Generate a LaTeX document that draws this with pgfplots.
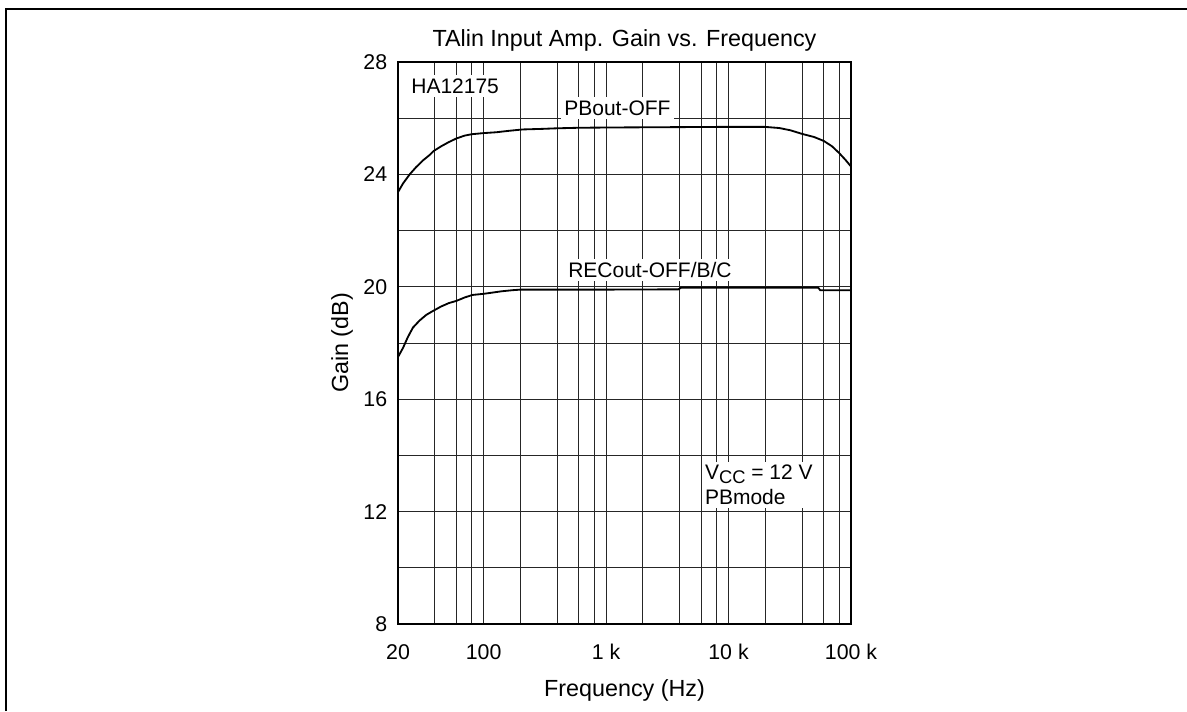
\documentclass[border=0pt]{standalone}
\usepackage{fontspec}
\setmainfont{Liberation Sans}
\usepackage{pgfplots}
\pgfplotsset{compat=1.18}

\begin{document}
\begin{tikzpicture}
\useasboundingbox (0,0) rectangle (712.2pt,426.6pt);
\begin{axis}[
  at={(238.8pt,52.2pt)}, anchor=south west,
  width=271.8pt, height=337.2pt, scale only axis,
  xmode=log, xmin=20, xmax=100000, ymin=8, ymax=28,
  xtick={20,100,1000,10000,100000},
  xticklabels={20,100,1 k,10 k,100 k},
  minor xtick={40,60,80,200,400,600,800,2000,4000,6000,8000,20000,40000,60000,80000},
  ytick={8,12,16,20,24,28},
  minor ytick={10,14,18,22,26},
  grid=both,
  major grid style={black!85, line width=0.55pt},
  minor grid style={black!85, line width=0.55pt},
  major tick length=0pt, minor tick length=0pt,
  axis line style={line width=0.9pt},
  /pgf/number format/assume math mode=true,
  ticklabel style={font=\fontsize{12.8}{15}\selectfont, inner sep=0pt},
  xticklabel style={anchor=north, yshift=-12pt},
  yticklabel style={anchor=east, xshift=-6.3pt},
  title={TAlin Input Amp. Gain vs. Frequency},
  title style={font=\fontsize{14}{16}\selectfont, at={(axis description cs:0.5,1.02)}, anchor=center, yshift=0pt},
  xlabel={Frequency (Hz)},
  xlabel style={font=\fontsize{14}{16}\selectfont, at={(axis description cs:0.5,-0.1174)}, anchor=center},
  ylabel={Gain (dB)},
  ylabel style={font=\fontsize{14}{16}\selectfont, at={(axis description cs:-0.1236,0.5)}, anchor=center, rotate=0},
]
\addplot[black, line width=1.1pt] coordinates {
(20,23.37) (22,23.68) (25,24.01) (28,24.25) (32,24.5) (36,24.68) (39,24.83)
(45,25.0) (52,25.15) (60,25.28) (70,25.38) (80,25.43) (100,25.47) (127,25.5)
(160,25.55) (209,25.6) (300,25.62) (393,25.64) (600,25.66) (1141,25.67)
(3000,25.68) (8000,25.69) (15000,25.69) (20000,25.69) (26000,25.65)
(32000,25.57) (40000,25.44) (50000,25.33) (60000,25.19) (70000,25.0)
(80000,24.76) (90000,24.52) (100000,24.28)
};
\addplot[black, line width=1.1pt] coordinates {
(20,17.5) (22,17.83) (24,18.2) (26.5,18.55) (30,18.8) (34,19.0) (38.6,19.14)
(45,19.3) (52,19.42) (60,19.5) (70,19.62) (81,19.71) (100,19.75) (112,19.78)
(140,19.84) (173,19.88) (200,19.9) (1000,19.9) (3900,19.91) (4100,19.97)
(20000,19.97) (54000,19.97) (56000,19.88) (100000,19.88)
};
\node[fill=white, inner sep=2pt, anchor=west, font=\fontsize{12.6}{15}\selectfont] at (axis cs:24,27.15) {HA12175};
\node[fill=white, inner sep=2pt, font=\fontsize{12.6}{15}\selectfont] at (axis cs:1238,26.36) {PBout-OFF};
\node[fill=white, inner sep=2pt, font=\fontsize{12.6}{15}\selectfont] at (axis cs:2281,20.6) {RECout-OFF/B/C};
\node[fill=white, inner sep=2pt, anchor=west, align=left, font=\fontsize{12.6}{15}\selectfont] at (axis cs:6000,12.95) {V\raisebox{-0.35ex}{\fontsize{11}{13}\selectfont CC} = 12 V\\PBmode};
\end{axis}
\draw[line width=1.2pt] (3.6pt,0pt) -- (3.6pt,421.2pt) -- (712.2pt,421.2pt);
\end{tikzpicture}
\end{document}
